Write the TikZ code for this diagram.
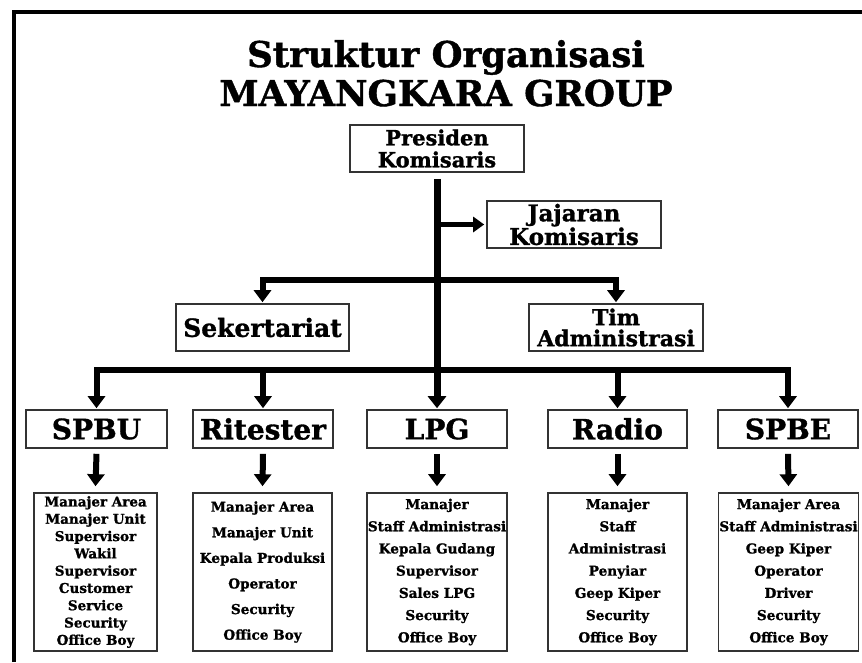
\documentclass[tikz,border=0pt]{standalone}
\usepackage{fontspec}
\setmainfont{DejaVu Serif}[BoldFeatures={FakeBold=1.2}]
\usetikzlibrary{arrows.meta}
\tikzset{
  box/.style={draw=black!80, line width=1.6pt, rectangle, inner sep=0pt, align=center, font=\bfseries},
  titletext/.style={inner sep=0pt, anchor=base, font=\fontsize{35.5}{40}\selectfont\bfseries},
  conn/.style={line width=6pt, -{Triangle[width=17pt,length=12pt]}},
  connboth/.style={line width=6pt, {Triangle[width=17pt,length=12pt]}-{Triangle[width=17pt,length=12pt]}},
  trunk/.style={line width=7pt, -{Triangle[width=18pt,length=12pt]}},
  side/.style={line width=5pt, -{Triangle[width=15pt,length=11pt]}},
  hdr/.style={box, minimum width=#1, minimum height=47pt},
  rowbox/.style={box, minimum width=#1, minimum height=38pt, font=\fontsize{28}{30}\selectfont\bfseries},
  detail/.style={box, minimum width=#1, minimum height=158pt},
}
\begin{document}
\begin{tikzpicture}[x=1pt,y=-1pt]
\useasboundingbox (0,0) rectangle (862,662);
% frame
\draw[line width=4pt] (14,662) -- (14,12) -- (862,12);
% title
\node[titletext] (t1) at (446,67) {Struktur Organisasi};
\node[titletext] (t2) at (446,106) {MAYANGKARA GROUP};
% top boxes
\node[hdr=174pt, font=\fontsize{21}{22}\selectfont\bfseries] (pres) at (437,148.5) {Presiden\\Komisaris};
\node[hdr=174pt, font=\fontsize{23}{22}\selectfont\bfseries] (jaj) at (574,224.5) {Jajaran\\Komisaris};
\node[hdr=173pt, font=\fontsize{25}{26}\selectfont\bfseries] (sek) at (262.5,327.5) {Sekertariat};
\node[hdr=174pt, font=\fontsize{22}{21}\selectfont\bfseries] (tim) at (616,327.5) {Tim\\Administrasi};
% row boxes
\node[rowbox=141pt] (spbu) at (96.5,429) {SPBU};
\node[rowbox=140pt] (rit) at (263,429) {Ritester};
\node[rowbox=140pt] (lpg) at (437,429) {LPG};
\node[rowbox=139pt] (rad) at (617.5,429) {Radio};
\node[rowbox=140pt] (spbe) at (788,429) {SPBE};
% detail boxes
\node[detail=123pt, font=\fontsize{13.5}{17.3}\selectfont\bfseries] (spbud) at (95.5,572)
  {Manajer Area\\Manajer Unit\\Supervisor\\Wakil\\Supervisor\\Customer\\Service\\Security\\Office Boy};
\node[detail=139pt, font=\fontsize{13.6}{25.6}\selectfont\bfseries] (ritd) at (262.5,572)
  {Manajer Area\\Manajer Unit\\Kepala Produksi\\Operator\\Security\\Office Boy};
\node[detail=140pt, font=\fontsize{13.6}{22.2}\selectfont\bfseries] (lpgd) at (437,572)
  {Manajer\\Staff Administrasi\\Kepala Gudang\\Supervisor\\Sales LPG\\Security\\Office Boy};
\node[detail=139pt, font=\fontsize{13.6}{22.2}\selectfont\bfseries] (radd) at (617.5,572)
  {Manajer\\Staff\\Administrasi\\Penyiar\\Geep Kiper\\Security\\Office Boy};
\node[detail=140pt, font=\fontsize{13.6}{22.2}\selectfont\bfseries] (spbed) at (788.5,572)
  {Manajer Area\\Staff Administrasi\\Geep Kiper\\Operator\\Driver\\Security\\Office Boy};
% junction coordinates
\coordinate (h1) at (437,280);
\coordinate (h2) at (437,370);
% connectors
\draw[trunk] ([yshift=-6pt]pres.south) -- ([yshift=1pt]lpg.north);
\draw[side] (pres.south |- jaj.west) -- ([xshift=-2pt]jaj.west);
\draw[connboth] ([yshift=1pt]sek.north) |- (h1) -| ([yshift=1pt]tim.north);
\draw[connboth] ([yshift=1pt]spbu.north) |- (h2) -| ([yshift=1pt]spbe.north);
\draw[conn] (rit.north |- h2) -- ([yshift=1pt]rit.north);
\draw[conn] (rad.north |- h2) -- ([yshift=1pt]rad.north);
\foreach \a/\b in {spbu/spbud, rit/ritd, lpg/lpgd, rad/radd, spbe/spbed}
  \draw[conn] ([yshift=-5pt]\a.south) -- ([yshift=6pt]\b.north);
\end{tikzpicture}
\end{document}
